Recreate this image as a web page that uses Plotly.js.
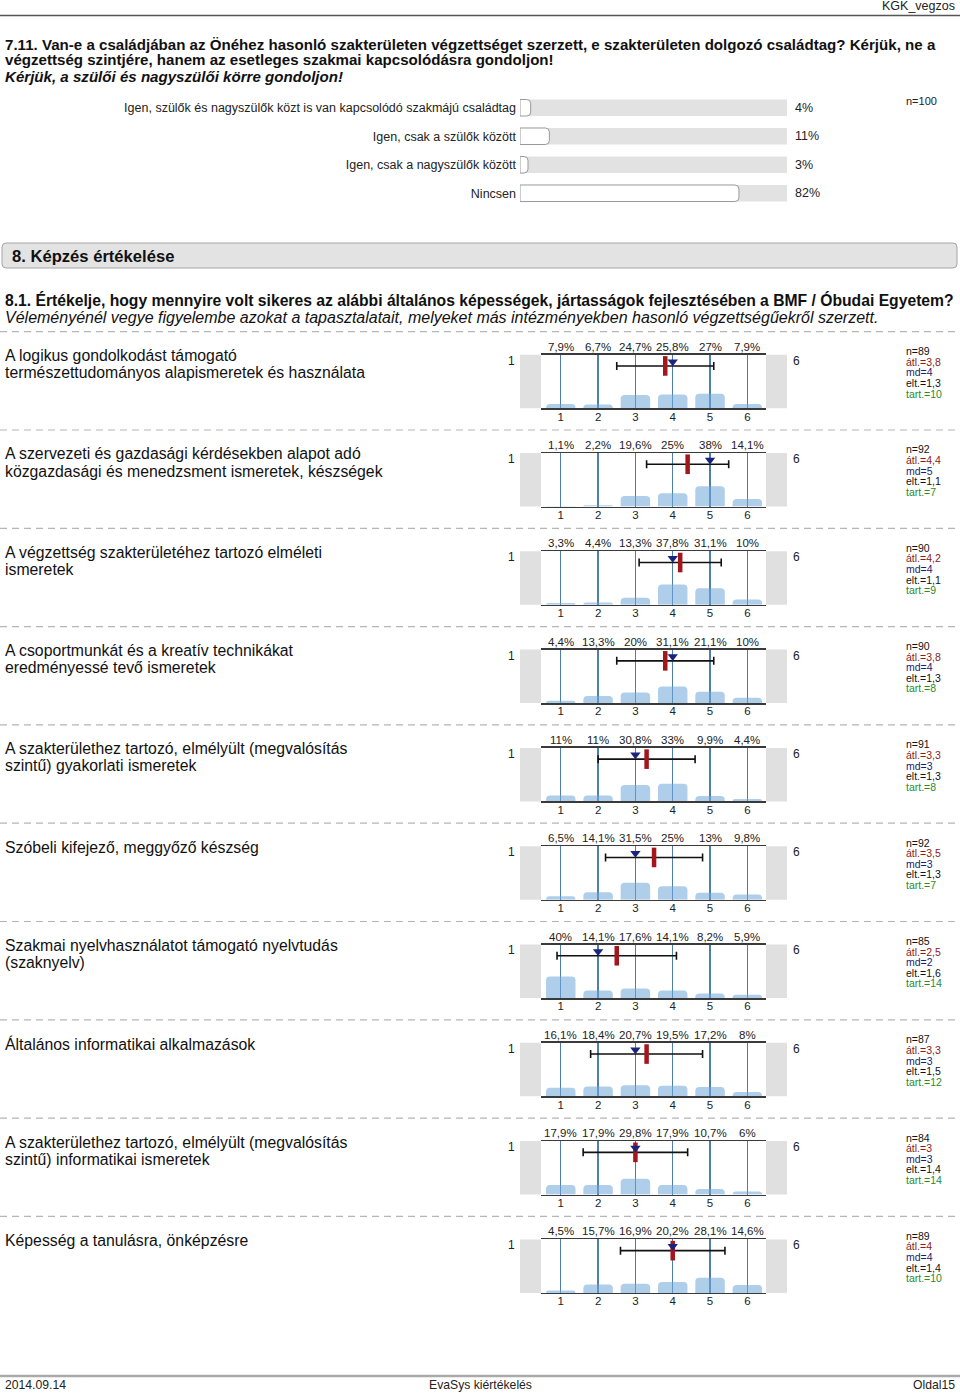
<!DOCTYPE html>
<html><head><meta charset="utf-8">
<script src="https://cdn.plot.ly/plotly-3.0.1.min.js"></script>
<style>html,body{margin:0;padding:0;background:#fff}</style>
</head><body><div id="chart" style="width:960px;height:1395px"></div>
<script>
// ---------------- DATA ----------------
const q711Options = [
  "Igen, szülők és nagyszülők közt is van kapcsolódó szakmájú családtag",
  "Igen, csak a szülők között",
  "Igen, csak a nagyszülők között",
  "Nincsen"
];
const q711Pct = [4, 11, 3, 82];
const q711N = 100;

const scaleCats = [1, 2, 3, 4, 5, 6];
const itemLabels = [
  ["A logikus gondolkodást támogató", "természettudományos alapismeretek és használata"],
  ["A szervezeti és gazdasági kérdésekben alapot adó", "közgazdasági és menedzsment ismeretek, készségek"],
  ["A végzettség szakterületéhez tartozó elméleti", "ismeretek"],
  ["A csoportmunkát és a kreatív technikákat", "eredményessé tevő ismeretek"],
  ["A szakterülethez tartozó, elmélyült (megvalósítás", "szintű) gyakorlati ismeretek"],
  ["Szóbeli kifejező, meggyőző készség"],
  ["Szakmai nyelvhasználatot támogató nyelvtudás", "(szaknyelv)"],
  ["Általános informatikai alkalmazások"],
  ["A szakterülethez tartozó, elmélyült (megvalósítás", "szintű) informatikai ismeretek"],
  ["Képesség a tanulásra, önképzésre"]
];
const itemPct = [
  [7.9, 6.7, 24.7, 25.8, 27, 7.9],
  [1.1, 2.2, 19.6, 25, 38, 14.1],
  [3.3, 4.4, 13.3, 37.8, 31.1, 10],
  [4.4, 13.3, 20, 31.1, 21.1, 10],
  [11, 11, 30.8, 33, 9.9, 4.4],
  [6.5, 14.1, 31.5, 25, 13, 9.8],
  [40, 14.1, 17.6, 14.1, 8.2, 5.9],
  [16.1, 18.4, 20.7, 19.5, 17.2, 8],
  [17.9, 17.9, 29.8, 17.9, 10.7, 6],
  [4.5, 15.7, 16.9, 20.2, 28.1, 14.6]
];
const itemN    = [89, 92, 90, 90, 91, 92, 85, 87, 84, 89];
const itemMean = [3.8, 4.4, 4.2, 3.8, 3.3, 3.5, 2.5, 3.3, 3, 4];
const itemMd   = [4, 5, 4, 4, 3, 3, 2, 3, 3, 4];
const itemSd   = [1.3, 1.1, 1.1, 1.3, 1.3, 1.3, 1.6, 1.5, 1.4, 1.4];
const itemAbst = [10, 7, 9, 8, 8, 7, 14, 12, 14, 10];

// ---------------- LAYOUT HELPERS ----------------
const W = 960, H = 1395;
const px = x => x / W;
const py = y => 1 - y / H;
const fmt = v => String(v).replace('.', ',');
const BASE = "Liberation Sans, Arial, sans-serif";

const traces = [];
const shapes = [];
const annotations = [];
const layout = {
  width: W, height: H, margin: {l: 0, r: 0, t: 0, b: 0},
  paper_bgcolor: '#fff', plot_bgcolor: 'rgba(0,0,0,0)',
  showlegend: false, font: {family: BASE, color: '#111', size: 12}
};

function txt(x, y, text, opts) {
  annotations.push(Object.assign({
    xref: 'paper', yref: 'paper', x: px(x), y: py(y), text: text,
    showarrow: false, xanchor: 'left', yanchor: 'middle',
    font: {family: BASE, size: 12, color: '#111'}
  }, opts || {}));
}

// header
txt(957, 6, 'KGK_vegzos', {xanchor: 'right', font: {family: BASE, size: 12.5, color: '#222'}});
shapes.push({type: 'line', xref: 'paper', yref: 'paper', x0: 0, x1: 1, y0: py(15.5), y1: py(15.5),
  line: {color: '#555', width: 1.5}});

const QF = {family: BASE, size: 15.1, color: '#111'};
txt(3, 44, '<b>7.11. Van-e a családjában az Önéhez hasonló szakterületen végzettséget szerzett, e szakterületen dolgozó családtag? Kérjük, ne a</b>', {font: QF});
txt(3, 60, '<b>végzettség szintjére, hanem az esetleges szakmai kapcsolódásra gondoljon!</b>', {font: QF});
txt(3, 76, '<b><i>Kérjük, a szülői és nagyszülői körre gondoljon!</i></b>', {font: QF});

// ---- 7.11 bar chart ----
layout.xaxis11 = {domain: [px(520), px(787)], range: [0, 100], visible: false, fixedrange: true, anchor: 'y11'};
layout.yaxis11 = {domain: [py(207.5), py(93.5)], type: 'category', autorange: 'reversed',
  anchor: 'x11', showgrid: false, zeroline: false, showline: false, ticks: '',
  ticklabelstandoff: 3, tickfont: {family: BASE, size: 12.5, color: '#222'}, fixedrange: true};
q711Options.forEach((o, i) => {
  shapes.push({type: 'rect', xref: 'x11', yref: 'y11', x0: 0, x1: 100, y0: i - 0.29, y1: i + 0.29,
    fillcolor: '#e2e2e2', line: {width: 0}, layer: 'below'});
  annotations.push({xref: 'paper', yref: 'y11', x: px(793), y: o, text: q711Pct[i] + '%',
    showarrow: false, xanchor: 'left', yanchor: 'middle', font: {family: BASE, size: 12.5, color: '#222'}});
});
traces.push({type: 'bar', orientation: 'h', x: q711Pct, y: q711Options, xaxis: 'x11', yaxis: 'y11',
  width: 0.58, marker: {color: '#fff', line: {color: '#999', width: 1}, cornerradius: 4}, hoverinfo: 'skip'});
txt(904, 101, 'n=' + q711N, {font: {family: BASE, size: 11, color: '#222'}});

// ---- section header ----
shapes.push({type: 'path', xref: 'paper', yref: 'paper',
  path: (() => {
    const x0 = px(2), x1 = px(957), y0 = py(243), y1 = py(268), rx = px(4), ry = 4 / H;
    return `M${x0 + rx},${y0} L${x1 - rx},${y0} Q${x1},${y0} ${x1},${y0 - ry} L${x1},${y1 + ry} Q${x1},${y1} ${x1 - rx},${y1} L${x0 + rx},${y1} Q${x0},${y1} ${x0},${y1 + ry} L${x0},${y0 - ry} Q${x0},${y0} ${x0 + rx},${y0} Z`;
  })(),
  fillcolor: '#e3e3e3', line: {color: '#a5a5a5', width: 1}, layer: 'below'});
txt(10, 256, '<b>8. Képzés értékelése</b>', {font: {family: BASE, size: 16.6, color: '#111'}});

txt(3, 300, '<b>8.1. Értékelje, hogy mennyire volt sikeres az alábbi általános képességek, jártasságok fejlesztésében a BMF / Óbudai Egyetem?</b>', {font: {family: BASE, size: 15.7, color: '#111'}});
txt(3, 317, '<i>Véleményénél vegye figyelembe azokat a tapasztalatait, melyeket más intézményekben hasonló végzettségűekről szerzett.</i>', {font: {family: BASE, size: 16, color: '#111'}});

// ---- items ----
const STAT_COLORS = ['#111', '#8b1a1a', '#1a1a70', '#111', '#2a8a2a'];
const MEAN_Y = 79, MED_Y = 87;
itemLabels.forEach((lab, k) => {
  const base = 331.7 + 98.3 * k;
  const top = base + 23, bottom = base + 76.5;
  const idx = k + 1;
  const xk = idx === 1 ? 'x' : 'x' + idx, yk = idx === 1 ? 'y' : 'y' + idx;
  const xa = idx === 1 ? 'xaxis' : 'xaxis' + idx, ya = idx === 1 ? 'yaxis' : 'yaxis' + idx;
  layout[xa] = {domain: [px(541), px(766)], range: [0.47, 6.5], anchor: yk,
    tickvals: scaleCats, ticktext: scaleCats.map(String), ticks: '', ticklabelstandoff: -3,
    tickfont: {family: BASE, size: 11.5, color: '#222'},
    showgrid: true, gridcolor: '#4e7eae', gridwidth: 1.4, zeroline: false,
    showline: true, mirror: true, linecolor: '#3a3a3a', linewidth: 1.5, fixedrange: true};
  layout[ya] = {domain: [py(bottom), py(top)], range: [0, 100], visible: false, fixedrange: true, anchor: xk};

  // side panels
  [[520, 541], [766, 787]].forEach(([a, b]) => shapes.push({type: 'rect', xref: 'paper', yref: 'paper',
    x0: px(a), x1: px(b), y0: py(bottom), y1: py(top), fillcolor: '#e0e0e0', line: {width: 0}, layer: 'below'}));
  // dashed separator above item
  shapes.push({type: 'line', xref: 'paper', yref: 'paper', x0: 0, x1: 1, y0: py(base), y1: py(base),
    line: {color: '#b5b5b5', width: 1.2, dash: '7px,5px'}});

  traces.push({type: 'bar', x: scaleCats, y: itemPct[k], xaxis: xk, yaxis: yk, width: 0.79,
    marker: {color: 'rgba(110,168,217,0.56)', line: {width: 0}, cornerradius: 4}, hoverinfo: 'skip'});
  traces.push({type: 'scatter', mode: 'markers', x: [itemMean[k]], y: [MEAN_Y], xaxis: xk, yaxis: yk,
    marker: {size: 1, color: 'rgba(0,0,0,0)'},
    error_x: {type: 'data', array: [itemSd[k]], symmetric: true, color: '#111', thickness: 1.6, width: 4},
    hoverinfo: 'skip', cliponaxis: false});
  traces.push({type: 'scatter', mode: 'markers', x: [itemMean[k]], y: [MEAN_Y], xaxis: xk, yaxis: yk,
    marker: {symbol: 'line-ns', size: 14, line: {width: 4.5, color: '#a3161b'}},
    hoverinfo: 'skip', cliponaxis: false});
  traces.push({type: 'scatter', mode: 'markers', x: [itemMd[k]], y: [MED_Y], xaxis: xk, yaxis: yk,
    marker: {symbol: 'triangle-down', size: 9, color: '#1a237e'}, hoverinfo: 'skip', cliponaxis: false});

  // percent labels
  scaleCats.forEach((c, j) => annotations.push({xref: xk, yref: 'paper', x: c, y: py(base + 15),
    text: fmt(itemPct[k][j]) + '%', showarrow: false, xanchor: 'center', yanchor: 'middle',
    font: {family: BASE, size: 11.5, color: '#222'}}));
  // end labels
  txt(511, base + 29, String(scaleCats[0]), {xanchor: 'center', font: {family: BASE, size: 12, color: '#222'}});
  txt(796, base + 29, String(scaleCats[scaleCats.length - 1]), {xanchor: 'center', font: {family: BASE, size: 12, color: '#222'}});
  // item label
  lab.forEach((l, j) => txt(3, base + 24 + 17 * j, l, {font: {family: BASE, size: 15.8, color: '#111'}}));
  // stats
  const stats = ['n=' + itemN[k], 'átl.=' + fmt(itemMean[k]), 'md=' + fmt(itemMd[k]),
    'elt.=' + fmt(itemSd[k]), 'tart.=' + itemAbst[k]];
  stats.forEach((s, j) => txt(904, base + 19.5 + 10.6 * j, s,
    {font: {family: BASE, size: 10.5, color: STAT_COLORS[j]}}));
});

// footer
shapes.push({type: 'line', xref: 'paper', yref: 'paper', x0: 0, x1: 1, y0: py(1376), y1: py(1376),
  line: {color: '#aaa', width: 2.5}});
const FF = {family: BASE, size: 12.2, color: '#222'};
txt(3, 1385, '2014.09.14', {font: FF});
txt(480, 1385, 'EvaSys kiértékelés', {xanchor: 'center', font: FF});
txt(957, 1385, 'Oldal15', {xanchor: 'right', font: FF});

layout.shapes = shapes;
layout.annotations = annotations;
Plotly.newPlot('chart', traces, layout, {staticPlot: true, displayModeBar: false});
</script></body></html>
